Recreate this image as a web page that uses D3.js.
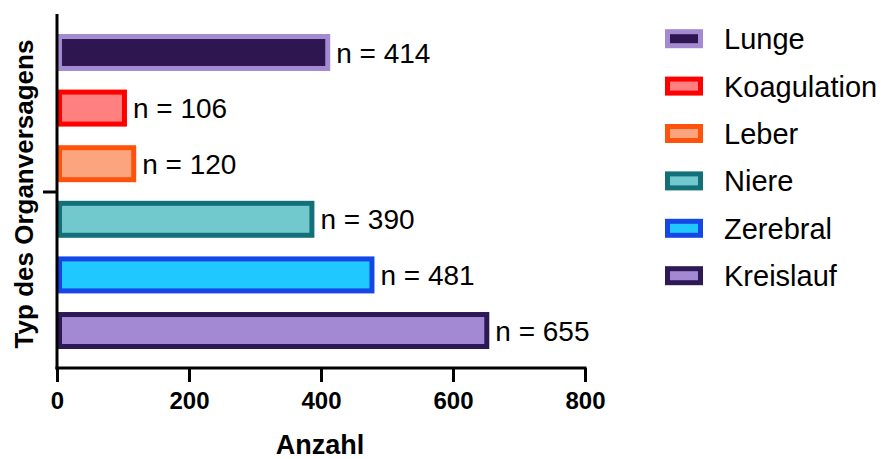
<!DOCTYPE html>
<html><head><meta charset="utf-8">
<script src="https://cdn.jsdelivr.net/npm/d3@7"></script>
<style>body{margin:0;background:#fff}svg{display:block}text{font-family:"Liberation Sans",Arial,sans-serif}</style>
</head><body><svg id="c" width="886" height="459"></svg>
<script>
const categories = ["Lunge","Koagulation","Leber","Niere","Zerebral","Kreislauf"];
const values = [414,106,120,390,481,655];
const fills = ["#2e1650","#ff8080","#fba47e","#71c8cd","#1fc8ff","#a389d3"];
const strokes = ["#a48bd1","#ff0000","#ff520a","#137079","#1447e6","#2d1a55"];
const xTicks = [0,200,400,600,800];
const xTitle = "Anzahl";
const yTitle = "Typ des Organversagens";

const svg = d3.select("#c");
const x = d3.scaleLinear().domain([0,800]).range([57,585]);
const y = d3.scaleBand().domain(categories).range([34,349]).paddingInner(0.335).paddingOuter(0);
const sw = 5;

const data = categories.map((c,i)=>({c, v:values[i], f:fills[i], s:strokes[i]}));

svg.append("g").selectAll("rect").data(data).join("rect")
  .attr("x", x(0)+sw/2)
  .attr("y", d=>y(d.c)+sw/2)
  .attr("width", d=>x(d.v)-x(0)-sw)
  .attr("height", y.bandwidth()-sw)
  .attr("fill", d=>d.f).attr("stroke", d=>d.s).attr("stroke-width", sw);

svg.append("g").selectAll("text").data(data).join("text")
  .attr("x", d=>x(d.v)+6)
  .attr("y", d=>y(d.c)+y.bandwidth()/2)
  .attr("dy","0.36em")
  .attr("font-size",28)
  .attr("fill","#000")
  .text(d=>"n = "+d.v);

// x axis
const xa = svg.append("g").attr("transform","translate(0,368)")
  .call(d3.axisBottom(x).tickValues(xTicks).tickSize(14).tickPadding(10).tickSizeOuter(0));
xa.select(".domain").attr("stroke","#000").attr("stroke-width",3).attr("d",`M${x(0)-1.5},0H${x(800)+1.5}`);
xa.selectAll(".tick line").attr("stroke","#000").attr("stroke-width",3);
xa.selectAll(".tick text").attr("font-size",24).attr("font-weight","bold").attr("font-family","Liberation Sans, Arial, sans-serif").attr("fill","#000");

// y axis
const yCenter = d3.scalePoint().domain(["g"]).range([34,349]).padding(0.5);
const ya = svg.append("g").attr("transform",`translate(${x(0)},0)`)
  .call(d3.axisLeft(yCenter).tickSize(14).tickFormat(""));
ya.select(".domain").attr("stroke","#000").attr("stroke-width",3).attr("d","M0,14V369.5");
ya.selectAll(".tick line").attr("stroke","#000").attr("stroke-width",3);

svg.append("text").attr("x",320).attr("y",454).attr("text-anchor","middle")
  .attr("font-size",27).attr("font-weight","bold").text(xTitle);
svg.append("text").attr("transform","translate(33,194) rotate(-90)").attr("text-anchor","middle")
  .attr("font-size",26).attr("font-weight","bold").text(yTitle);

// legend
const ly = d3.scalePoint().domain(categories).range([38.7,275.7]);
const lg = svg.append("g").selectAll("g").data(data).join("g")
  .attr("transform", d=>`translate(665,${ly(d.c)})`);
lg.append("rect").attr("x",sw/2).attr("y",-9.5+sw/2).attr("width",38-sw).attr("height",19-sw)
  .attr("fill",d=>d.f).attr("stroke",d=>d.s).attr("stroke-width",sw);
lg.append("text").attr("x",59).attr("dy","0.36em").attr("font-size",29).text(d=>d.c);
</script></body></html>
